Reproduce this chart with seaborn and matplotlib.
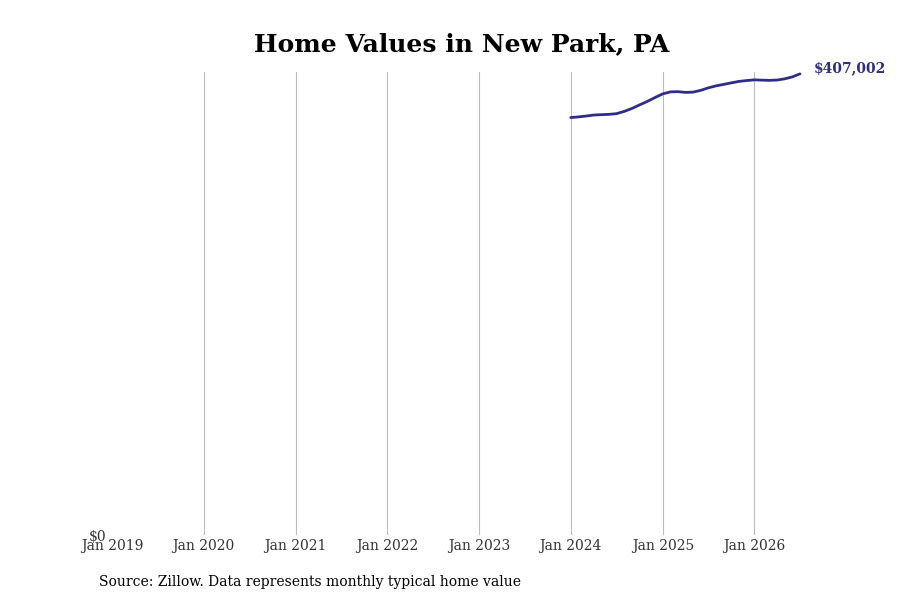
import matplotlib
matplotlib.use("Agg")
import matplotlib.pyplot as plt
import matplotlib.dates as mdates
import matplotlib.ticker as mticker
import pandas as pd
import seaborn as sns

# monthly typical home value, Jan 2024 .. Jul 2026
values = [
    368420, 369040, 369750, 370630, 370980, 371250, 371860, 373900,
    376550, 379630, 382730, 386080, 389350, 391110, 391290, 390670,
    390850, 392440, 394640, 396410, 397730, 399060, 400380, 401090,
    401710, 401440, 401270, 401530, 402590, 404350, 407002,
]
start_month = "2024-01-01"
tick_years = [2019, 2020, 2021, 2022, 2023, 2024, 2025, 2026]

title = "Home Values in New Park, PA"
source = "Source: Zillow. Data represents monthly typical home value"
line_color = "#2f2d88"

df = pd.DataFrame({
    "date": pd.date_range(start_month, periods=len(values), freq="MS"),
    "value": values,
})

sns.set_theme(style="white")
plt.rcParams["font.family"] = ["DejaVu Serif"]

fig = plt.figure(figsize=(9, 6), dpi=100)
ax = fig.add_axes([0.1244, 0.1083, 0.7756, 0.772])

ticks = [pd.Timestamp(f"{y}-01-01") for y in tick_years]
# vertical grid, none on the left edge (Jan 2019)
for t in ticks[1:]:
    ax.axvline(t, color="#bbbbbb", linewidth=0.8, zorder=0)

sns.lineplot(data=df, x="date", y="value", color=line_color, linewidth=2, ax=ax)

ax.set_xlim(pd.Timestamp("2019-01-01"), pd.Timestamp("2026-08-10"))
ax.set_ylim(0, 408800)

ax.set_xticks(ticks)
ax.xaxis.set_major_formatter(mdates.DateFormatter("Jan %Y"))
ax.set_yticks([0])
ax.yaxis.set_major_formatter(mticker.FuncFormatter(lambda v, _: f"${v:,.0f}"))
ax.tick_params(axis="both", length=0, labelsize=10, labelcolor="#333333")
ax.tick_params(axis="x", pad=3)
ax.tick_params(axis="y", pad=4)

ax.grid(False)
sns.despine(ax=ax, left=True, bottom=True)
ax.set_xlabel("")
ax.set_ylabel("")

last = df.iloc[-1]
ax.annotate(f"${last['value']:,.0f}", xy=(last["date"], last["value"]),
            xytext=(10, 4), textcoords="offset points", va="center", ha="left",
            fontsize=10, fontweight="bold", color=line_color, annotation_clip=False)

fig.text(0.5133, 0.926, title, ha="center", va="center", fontsize=18,
         fontweight="bold", color="black")
fig.text(0.11, 0.03, source, ha="left", va="center", fontsize=10, color="black")

fig.savefig("out.png", dpi=100)
